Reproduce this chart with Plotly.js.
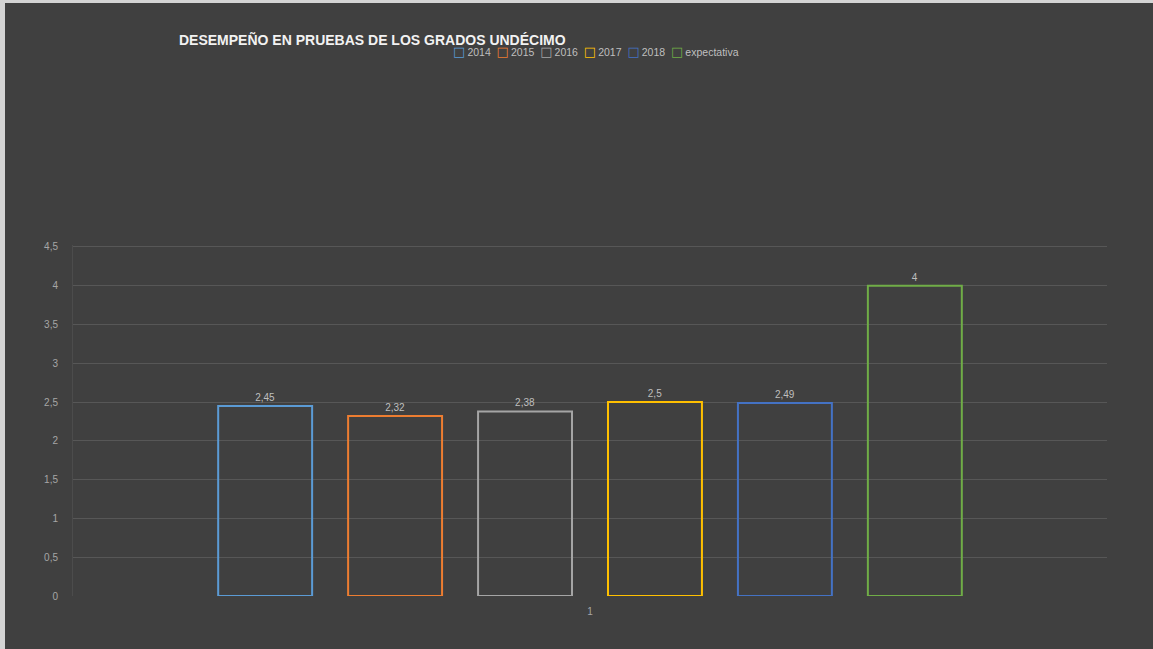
<!DOCTYPE html>
<html>
<head>
<meta charset="utf-8">
<script src="https://cdn.plot.ly/plotly-3.0.1.min.js"></script>
<style>
  html, body { margin: 0; padding: 0; background: #d4d4d4; overflow: hidden; }
  #chart { position: absolute; left: 5px; top: 3px; width: 1148px; height: 646px; }
</style>
</head>
<body>
<div id="chart"></div>
<script>
const categories = ['1'];
const seriesNames = ['2014', '2015', '2016', '2017', '2018', 'expectativa'];
const seriesValues = [[2.45], [2.32], [2.38], [2.5], [2.49], [4]];
const seriesColors = ['#5B9BD5', '#ED7D31', '#A5A5A5', '#FFC000', '#4472C4', '#70AD47'];
const yTickVals = [0, 0.5, 1, 1.5, 2, 2.5, 3, 3.5, 4, 4.5];

const fmt = v => String(v).replace('.', ',');

const traces = seriesNames.map((name, i) => ({
  type: 'bar',
  name: name,
  x: categories,
  y: seriesValues[i],
  marker: { color: 'rgba(0,0,0,0)', line: { color: seriesColors[i], width: 2 } },
  text: seriesValues[i].map(fmt),
  textposition: 'outside',
  textfont: { family: 'Liberation Sans, Arial, sans-serif', size: 10, color: '#BFBFBF' },
  cliponaxis: false,
  showlegend: false,
  hoverinfo: 'name+y'
}));

// Legend built from the series names/colours as one line of real text
const legendText = seriesNames.map((name, i) =>
  '<span style="color:' + seriesColors[i] + ';font-size:13px;font-family:DejaVu Sans">□</span>&#8201;' + name
).join('&nbsp;&nbsp;');

const layout = {
  paper_bgcolor: '#404040',
  plot_bgcolor: '#404040',
  separators: ',.',
  margin: { l: 68, r: 46, t: 242, b: 53 },
  barmode: 'group',
  bargap: 0.246,
  bargroupgap: 0.277,
  showlegend: false,
  title: {
    text: 'DESEMPEÑO EN PRUEBAS DE LOS GRADOS UNDÉCIMO',
    xref: 'container', yref: 'container',
    x: 174 / 1148, xanchor: 'left',
    y: 1 - 37 / 646, yanchor: 'middle',
    font: { family: 'Liberation Sans, Arial, sans-serif', size: 14, color: '#F2F2F2', weight: 'bold' }
  },
  annotations: [{
    xref: 'paper', yref: 'paper',
    x: (451 - 73) / 1034, xanchor: 'left',
    y: (596 - 51) / 351, yanchor: 'middle',
    text: legendText,
    showarrow: false,
    font: { family: 'Liberation Sans, Arial, sans-serif', size: 10.5, color: '#BFBFBF' }
  }],
  xaxis: {
    type: 'category',
    showgrid: false,
    zeroline: false,
    showline: false,
    ticks: '',
    tickfont: { family: 'Liberation Sans, Arial, sans-serif', size: 10, color: '#A6A6A6' },
    ticklabelstandoff: 8
  },
  yaxis: {
    range: [0, 4.5257],
    tickvals: yTickVals,
    ticktext: yTickVals.map(fmt),
    showgrid: true,
    gridcolor: '#575757',
    gridwidth: 1,
    zeroline: false,
    showline: true,
    linecolor: '#4C4C4C',
    linewidth: 1,
    ticks: '',
    ticklabelstandoff: 12,
    tickfont: { family: 'Liberation Sans, Arial, sans-serif', size: 10, color: '#A6A6A6' }
  }
};

Plotly.newPlot('chart', traces, layout, { displayModeBar: false, responsive: false });
</script>
</body>
</html>
